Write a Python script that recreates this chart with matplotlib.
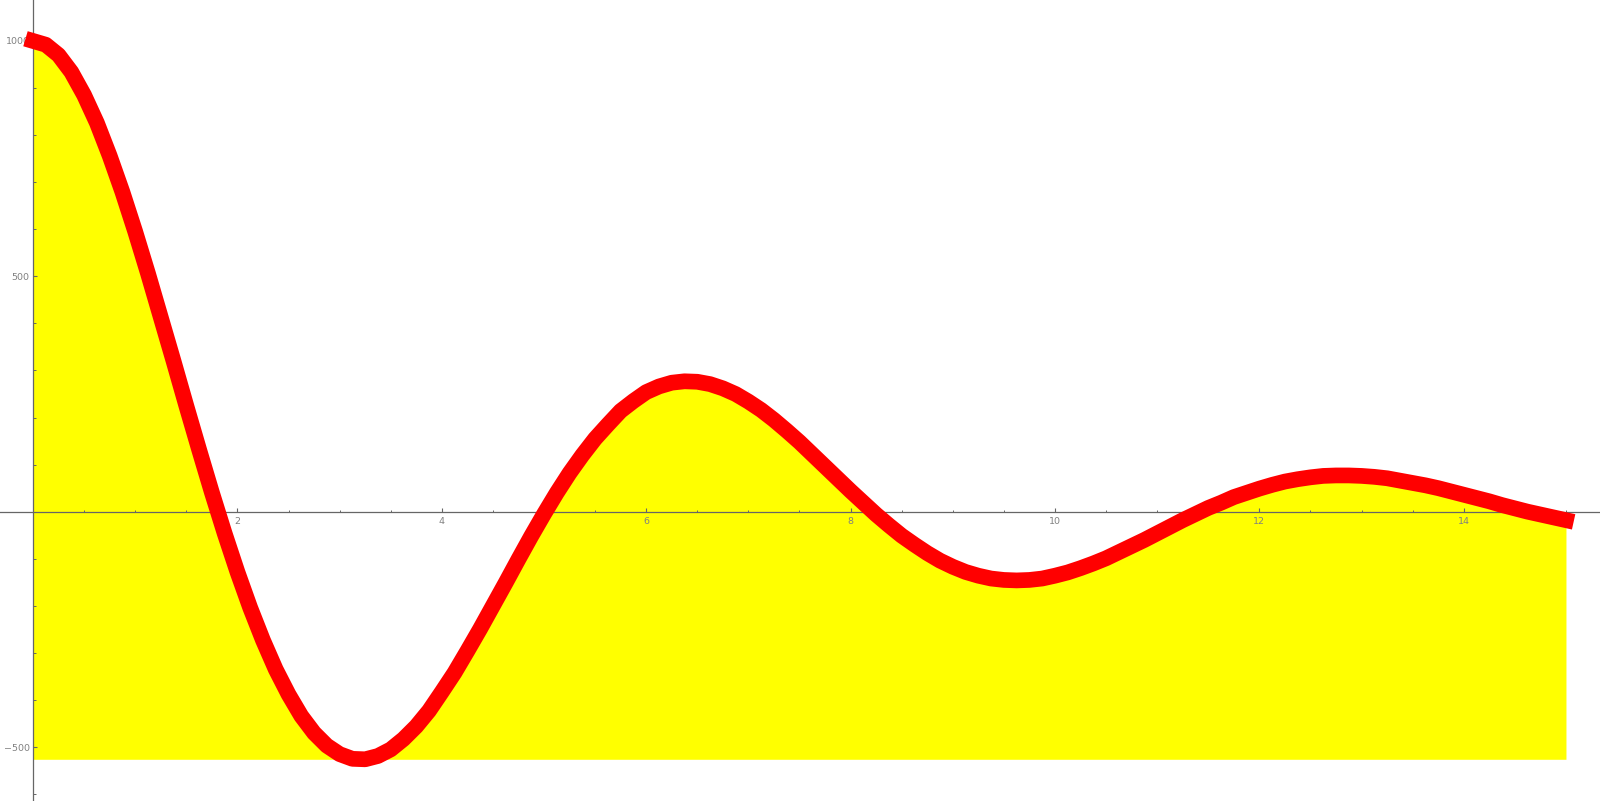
import numpy as np
import matplotlib.pyplot as plt
from matplotlib.ticker import MultipleLocator, FixedLocator

t = np.linspace(0, 15, 121)
y = np.array([
    1000, 992, 970, 934, 885, 826, 756, 679,
    595, 506, 413, 320, 225, 132, 41, -46,
    -128, -204, -273, -335, -388, -434, -470, -497,
    -515, -525, -526, -519, -505, -483, -456, -423,
    -383, -342, -296, -249, -200, -151, -101, -52,
    -5, 40, 82, 120, 155, 185, 214, 235,
    254, 266, 274, 277, 276, 271, 262, 250,
    234, 216, 195, 172, 148, 122, 96, 70,
    44, 19, -6, -29, -51, -70, -88, -104,
    -117, -128, -136, -142, -145, -146, -145, -142,
    -136, -129, -120, -110, -99, -86, -73, -60,
    -46, -32, -18, -5, 8, 19, 31, 40,
    49, 57, 64, 69, 73, 76, 77, 77,
    76, 74, 71, 66, 61, 56, 50, 43,
    36, 29, 22, 14, 7, 0, -6, -12,
    -18,
])
x_major = [2, 4, 6, 8, 10, 12, 14]
y_major = [-500, 500, 1000]

fig = plt.figure(figsize=(16, 8.01), dpi=100)
ax = fig.add_axes([0, 0, 1, 1])

ax.fill_between(t, y, y.min(), color="#ffff00", linewidth=0, zorder=1)
ax.plot(t, y, color="#ff0000", linewidth=11.3, solid_capstyle="projecting",
        solid_joinstyle="round", zorder=3)

ax.set_xlim(-0.323, 15.333)
ax.set_ylim(-614.6, 1087)

for s in ["top", "right"]:
    ax.spines[s].set_visible(False)
ax.spines["left"].set_position(("data", 0))
ax.spines["bottom"].set_position(("data", 0))
for s in ["left", "bottom"]:
    ax.spines[s].set_color("#666666")
    ax.spines[s].set_linewidth(0.9)

ax.xaxis.set_major_locator(FixedLocator(x_major))
ax.xaxis.set_minor_locator(MultipleLocator(0.5))
ax.yaxis.set_major_locator(FixedLocator(y_major))
ax.yaxis.set_minor_locator(MultipleLocator(100))

ax.tick_params(axis="x", which="major", direction="in", length=3.2, width=0.8,
               color="#666666", labelsize=6.8, labelcolor="#808080", pad=3.5)
ax.tick_params(axis="x", which="minor", direction="in", length=1.6, width=0.7,
               color="#666666")
ax.tick_params(axis="y", which="major", direction="in", length=2.6, width=0.8,
               color="#666666", labelsize=6.8, labelcolor="#808080", pad=2.5)
ax.tick_params(axis="y", which="minor", direction="in", length=1.8, width=0.7,
               color="#666666")

fig.savefig("out.png", dpi=100)
